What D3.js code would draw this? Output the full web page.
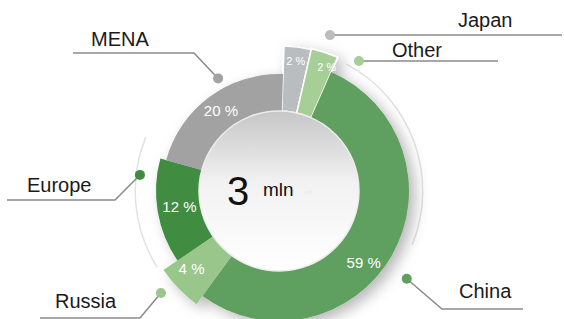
<!DOCTYPE html>
<html>
<head>
<meta charset="utf-8">
<script src="https://cdn.jsdelivr.net/npm/d3@7"></script>
<style>
  html, body { margin: 0; padding: 0; background: #fff; }
  svg { display: block; font-family: "Liberation Sans", Arial, sans-serif; }
</style>
</head>
<body>
<div id="chart"></div>
<script>
// 数据
const regions = ["Japan", "Other", "China", "Russia", "Europe", "MENA"];
const shares = [2, 2, 59, 4, 12, 20];
const totalValue = "3";
const totalUnit = "mln";

// 样式（颜色、外半径、标签半径）
const segColors = ["#b9bdc0", "#a6cf98", "#5f9f5f", "#99c68b", "#3f8c3f", "#a2a2a2"];
const segInner = ["#9fa3a6", "#93bf85", "#5a995a", "#8ab97c", "#3a843a", "#7c7c7c"];
const segOuterR = [145, 146, 130, 140, 123, 117];
const labelR = [130, 132, 112, 118, 101, 98];
const labelShift = [0, 3, 11, 2, 0, 0]; // 度
const labelSize = [11, 11, 15, 15, 15, 15];

// 引线布局：圆点(角度°, 半径)，折点，终点，文字位置
const callouts = [
  { dot: [18.1, 164], elbow: null, end: [562, 35], text: [458, 27] },
  { dot: [31.6, 152.6], elbow: null, end: [498, 61], text: [392, 57] },
  { dot: [124.5, 155], elbow: [442, 309], end: [523, 309], text: [459, 298] },
  { dot: [229.2, 156], elbow: [140, 318], end: [40, 318], text: [55, 308] },
  { dot: [276.6, 140], elbow: [115, 200], end: [7, 200], text: [27, 192] },
  { dot: [331.6, 128], elbow: [194, 53], end: [73, 53], text: [91, 46] }
];

const width = 564, height = 319;
const cx = 279, cy = 191, innerR = 80;
const rad = deg => deg * Math.PI / 180;

const svg = d3.select("#chart").append("svg")
  .attr("width", width)
  .attr("height", height);

const defs = svg.append("defs");

// 阴影
const shadow = defs.append("filter").attr("id", "shadow")
  .attr("x", "-30%").attr("y", "-30%").attr("width", "160%").attr("height", "160%");
shadow.append("feDropShadow")
  .attr("dx", 6).attr("dy", 5)
  .attr("stdDeviation", 7)
  .attr("flood-color", "#000")
  .attr("flood-opacity", 0.28);

// 每段的径向渐变（内侧更暗）
regions.forEach((r, i) => {
  const gr = defs.append("radialGradient")
    .attr("id", `grad-${i}`)
    .attr("gradientUnits", "userSpaceOnUse")
    .attr("cx", cx).attr("cy", cy).attr("r", segOuterR[i]);
  gr.append("stop").attr("offset", innerR / segOuterR[i]).attr("stop-color", segInner[i]);
  gr.append("stop").attr("offset", 1).attr("stop-color", segColors[i]);
});

// 中心圆渐变
const cg = defs.append("linearGradient").attr("id", "center-grad")
  .attr("x1", 0).attr("y1", 0).attr("x2", 0).attr("y2", 1);
cg.append("stop").attr("offset", 0).attr("stop-color", "#c6c6c6");
cg.append("stop").attr("offset", 0.45).attr("stop-color", "#f2f2f2");
cg.append("stop").attr("offset", 1).attr("stop-color", "#ffffff");

const g = svg.append("g").attr("transform", `translate(${cx},${cy})`);

// 外圈细弧（右侧与左侧）
const ring = d3.arc().innerRadius(143).outerRadius(144.5);
[[28, 112], [238, 292]].forEach(([a0, a1]) => {
  g.append("path")
    .attr("d", ring({ startAngle: rad(a0), endAngle: rad(a1) }))
    .attr("fill", "#e2e2e2");
});

// 原图中小份额被放大显示：按幂比例尺计算角度
const weight = d3.scalePow().exponent(0.85).domain([0, 100]).range([0, 100]);
const pie = d3.pie().sort(null).value(d => weight(d))
  .startAngle(rad(2)).endAngle(2 * Math.PI + rad(2));
const arcs = pie(shares);

const arc = d3.arc()
  .innerRadius(innerR)
  .outerRadius((d, i) => segOuterR[i]);

const segs = g.append("g").attr("filter", "url(#shadow)");
segs.selectAll("path")
  .data(arcs)
  .join("path")
  .attr("d", (d, i) => arc(d, i))
  .attr("fill", (d, i) => `url(#grad-${i})`)
  .attr("stroke", (d, i) => i < 2 ? "#fff" : "none")
  .attr("stroke-width", 1.5);

// 中心圆
g.append("circle")
  .attr("r", innerR)
  .attr("fill", "url(#center-grad)")
  .attr("stroke", "#ececec")
  .attr("stroke-width", 1.5);

// 百分比标签
g.selectAll("text.pct")
  .data(arcs)
  .join("text")
  .attr("class", "pct")
  .attr("transform", (d, i) => {
    const a = (d.startAngle + d.endAngle) / 2 + rad(labelShift[i]);
    const p = d3.pointRadial(a, labelR[i]);
    return `translate(${p[0]},${p[1]})`;
  })
  .attr("text-anchor", "middle")
  .attr("dominant-baseline", "middle")
  .attr("fill", "#fff")
  .attr("font-size", (d, i) => labelSize[i])
  .text(d => `${d.data} %`);

// 中心文字
svg.append("text")
  .attr("x", 227).attr("y", 205)
  .attr("font-size", 40)
  .attr("fill", "#111")
  .text(totalValue);
svg.append("text")
  .attr("x", 263).attr("y", 196)
  .attr("font-size", 19)
  .attr("fill", "#111")
  .text(totalUnit);
svg.append("text")
  .attr("x", 305).attr("y", 194)
  .attr("font-size", 6)
  .attr("fill", "#e6e6e6")
  .text("m²");

// 引线与标签
const lines = svg.append("g");
callouts.forEach((c, i) => {
  const p = d3.pointRadial(rad(c.dot[0]), c.dot[1]);
  const dot = [cx + p[0], cy + p[1]];
  const pts = [dot];
  if (c.elbow) pts.push(c.elbow);
  pts.push(c.end);
  lines.append("path")
    .attr("d", d3.line()(pts))
    .attr("fill", "none")
    .attr("stroke", "#8a8a8a")
    .attr("stroke-width", 1.5);
  lines.append("circle")
    .attr("cx", dot[0]).attr("cy", dot[1])
    .attr("r", 5)
    .attr("fill", segColors[i]);
  lines.append("text")
    .attr("x", c.text[0]).attr("y", c.text[1])
    .attr("font-size", 20)
    .attr("fill", "#1a1a1a")
    .text(regions[i]);
});
</script>
</body>
</html>
